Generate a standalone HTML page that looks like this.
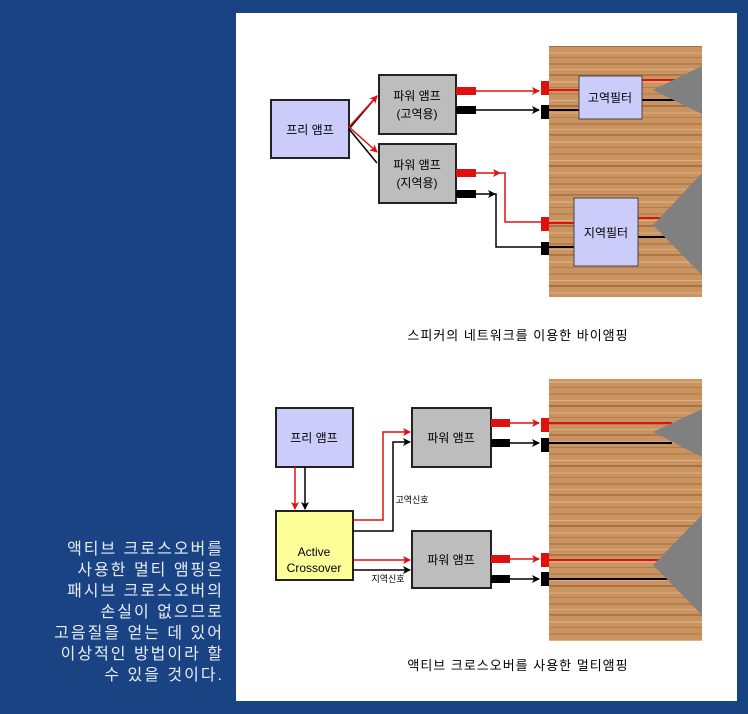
<!DOCTYPE html>
<html><head><meta charset="utf-8"><style>
html,body{margin:0;padding:0;width:748px;height:714px;overflow:hidden;background:#1a4384;}
svg{position:absolute;left:0;top:0;}
.t{font-family:"Liberation Sans","Noto Sans CJK KR",sans-serif;}
</style></head><body>
<svg width="748" height="714" viewBox="0 0 748 714" xmlns="http://www.w3.org/2000/svg">
<defs>
<pattern id="wood" width="160" height="60" patternUnits="userSpaceOnUse">
<rect width="160" height="60" fill="#c99462"/>
<rect y="3" width="160" height="2" fill="#b67f4c"/>
<rect y="9" width="160" height="1" fill="#dcac80"/>
<rect y="14" width="160" height="2" fill="#b07846"/>
<rect y="21" width="160" height="2" fill="#d9a676"/>
<rect y="27" width="160" height="1" fill="#b47c48"/>
<rect y="33" width="160" height="2" fill="#bd864f"/>
<rect y="40" width="160" height="1" fill="#dfb084"/>
<rect y="45" width="160" height="2" fill="#a87240"/>
<rect y="52" width="160" height="2" fill="#d5a070"/>
<rect y="57" width="160" height="1" fill="#b47c48"/>
</pattern>
<marker id="ar" markerWidth="8" markerHeight="8" refX="7" refY="4" orient="auto" markerUnits="userSpaceOnUse"><path d="M0,0 L8,4 L0,8 L2,4z" fill="#e01010"/></marker>
<marker id="ab" markerWidth="8" markerHeight="8" refX="7" refY="4" orient="auto" markerUnits="userSpaceOnUse"><path d="M0,0 L8,4 L0,8 L2,4z" fill="#000"/></marker>
</defs>
<rect x="236" y="13" width="501" height="688" fill="#fff"/>

<!-- TOP -->
<rect x="549" y="46" width="153" height="251" fill="url(#wood)"/>
<rect x="271" y="100" width="78" height="58" fill="#ccccfa" stroke="#222" stroke-width="2"/>
<text class="t" x="310" y="134" font-size="12" text-anchor="middle">프리 앰프</text>
<rect x="379" y="75" width="77" height="59" fill="#bdbdbd" stroke="#222" stroke-width="2"/>
<text class="t" x="417" y="100" font-size="12" text-anchor="middle">파워 앰프</text>
<text class="t" x="417" y="118" font-size="12" text-anchor="middle">(고역용)</text>
<rect x="379" y="144" width="77" height="59" fill="#bdbdbd" stroke="#222" stroke-width="2"/>
<text class="t" x="417" y="169" font-size="12" text-anchor="middle">파워 앰프</text>
<text class="t" x="417" y="187" font-size="12" text-anchor="middle">(지역용)</text>
<path d="M349,129 L377,96" stroke="#000" stroke-width="1.5" fill="none"/>
<path d="M349,129 L377,163" stroke="#000" stroke-width="1.5" fill="none"/>
<path d="M349,127 L377,96" stroke="#e01010" stroke-width="1.5" fill="none" marker-end="url(#ar)"/>
<path d="M349,127 L377,152" stroke="#e01010" stroke-width="1.5" fill="none" marker-end="url(#ar)"/>
<rect x="456" y="87" width="20" height="8" fill="#e01010"/>
<rect x="456" y="106" width="20" height="8" fill="#000"/>
<path d="M476,91 L539,91" stroke="#e01010" stroke-width="1.5" marker-end="url(#ar)"/>
<path d="M476,110 L539,110" stroke="#000" stroke-width="1.5" marker-end="url(#ab)"/>
<rect x="541" y="81" width="8" height="14" fill="#e01010"/>
<rect x="541" y="105" width="8" height="14" fill="#000"/>
<path d="M549,90 L579,90 M642,80 L680,80" stroke="#e01010" stroke-width="2"/>
<path d="M549,110 L579,110 M642,100 L680,100" stroke="#000" stroke-width="2"/>
<rect x="579" y="76" width="63" height="43" fill="#ccccfa" stroke="#444" stroke-width="1"/>
<text class="t" x="610" y="102" font-size="12" text-anchor="middle">고역필터</text>
<polygon points="653,90 702,66 702,114" fill="#808080"/>
<rect x="456" y="169" width="20" height="8" fill="#e01010"/>
<rect x="456" y="190" width="20" height="8" fill="#000"/>
<path d="M476,173 L500,173" stroke="#e01010" stroke-width="1.5" marker-end="url(#ar)"/>
<path d="M500,173 L505,173 L505,222 L541,222" stroke="#e01010" stroke-width="1.5" fill="none"/>
<path d="M476,194 L495,194" stroke="#000" stroke-width="1.5" marker-end="url(#ab)"/>
<path d="M495,194 L496,194 L496,247 L541,247" stroke="#000" stroke-width="1.5" fill="none"/>
<rect x="541" y="217" width="8" height="14" fill="#e01010"/>
<rect x="541" y="242" width="8" height="13" fill="#000"/>
<path d="M549,223 L574,223 M638,218 L672,218" stroke="#e01010" stroke-width="2"/>
<path d="M549,247 L574,247 M638,237 L672,237" stroke="#000" stroke-width="2"/>
<rect x="574" y="198" width="64" height="68" fill="#ccccfa" stroke="#444" stroke-width="1"/>
<text class="t" x="606" y="237" font-size="12" text-anchor="middle">지역필터</text>
<polygon points="653,225 702,173 702,275" fill="#808080"/>
<text class="t" x="518" y="340" font-size="13" text-anchor="middle" letter-spacing="1">스피커의 네트워크를 이용한 바이앰핑</text>

<!-- BOTTOM -->
<rect x="549" y="379" width="153" height="262" fill="url(#wood)"/>
<rect x="276" y="408" width="77" height="59" fill="#ccccfa" stroke="#222" stroke-width="2"/>
<text class="t" x="314" y="442" font-size="12" text-anchor="middle">프리 앰프</text>
<rect x="276" y="511" width="77" height="69" fill="#ffff9a" stroke="#222" stroke-width="2"/>
<text class="t" x="314" y="556" font-size="12" text-anchor="middle">Active</text>
<text class="t" x="314" y="572" font-size="12" text-anchor="middle">Crossover</text>
<path d="M295,467 L295,509" stroke="#e01010" stroke-width="1.5" marker-end="url(#ar)"/>
<path d="M305,467 L305,509" stroke="#000" stroke-width="1.5" marker-end="url(#ab)"/>
<rect x="412" y="408" width="79" height="59" fill="#bdbdbd" stroke="#222" stroke-width="2"/>
<text class="t" x="451" y="442" font-size="12" text-anchor="middle">파워 앰프</text>
<rect x="412" y="531" width="79" height="57" fill="#bdbdbd" stroke="#222" stroke-width="2"/>
<text class="t" x="451" y="564" font-size="12" text-anchor="middle">파워 앰프</text>
<path d="M353,520 L383,520 L383,432 L410,432" stroke="#e01010" stroke-width="1.5" fill="none" marker-end="url(#ar)"/>
<path d="M353,531 L393,531 L393,442 L410,442" stroke="#000" stroke-width="1.5" fill="none" marker-end="url(#ab)"/>
<path d="M353,560 L410,560" stroke="#e01010" stroke-width="1.5" marker-end="url(#ar)"/>
<path d="M353,570 L410,570" stroke="#000" stroke-width="1.5" marker-end="url(#ab)"/>
<text class="t" x="412" y="503" font-size="9" text-anchor="middle">고역신호</text>
<text class="t" x="388" y="582" font-size="9" text-anchor="middle">지역신호</text>
<rect x="491" y="419" width="19" height="8" fill="#e01010"/>
<rect x="491" y="439" width="19" height="8" fill="#000"/>
<path d="M510,423 L539,423" stroke="#e01010" stroke-width="1.5" marker-end="url(#ar)"/>
<path d="M510,443 L539,443" stroke="#000" stroke-width="1.5" marker-end="url(#ab)"/>
<rect x="541" y="418" width="8" height="14" fill="#e01010"/>
<rect x="541" y="438" width="8" height="14" fill="#000"/>
<path d="M549,423 L672,423" stroke="#e01010" stroke-width="2"/>
<path d="M549,443 L672,443" stroke="#000" stroke-width="2"/>
<polygon points="653,432 702,409 702,457" fill="#808080"/>
<rect x="491" y="555" width="19" height="8" fill="#e01010"/>
<rect x="491" y="575" width="19" height="8" fill="#000"/>
<path d="M510,559 L539,559" stroke="#e01010" stroke-width="1.5" marker-end="url(#ar)"/>
<path d="M510,579 L539,579" stroke="#000" stroke-width="1.5" marker-end="url(#ab)"/>
<rect x="541" y="553" width="8" height="14" fill="#e01010"/>
<rect x="541" y="572" width="8" height="14" fill="#000"/>
<path d="M549,560 L668,560" stroke="#e01010" stroke-width="2"/>
<path d="M549,579 L668,579" stroke="#000" stroke-width="2"/>
<polygon points="653,565 702,515 702,615" fill="#808080"/>
<text class="t" x="518" y="670" font-size="13" text-anchor="middle" letter-spacing="1">액티브 크로스오버를 사용한 멀티앰핑</text>

<g class="t" font-size="16" fill="#e8ecf6" text-anchor="end" letter-spacing="2">
<text x="224" y="554">액티브 크로스오버를</text>
<text x="224" y="575">사용한 멀티 앰핑은</text>
<text x="224" y="596">패시브 크로스오버의</text>
<text x="224" y="617">손실이 없으므로</text>
<text x="224" y="638">고음질을 얻는 데 있어</text>
<text x="224" y="659">이상적인 방법이라 할</text>
<text x="224" y="680">수 있을 것이다.</text>
</g>
</svg>
</body></html>
